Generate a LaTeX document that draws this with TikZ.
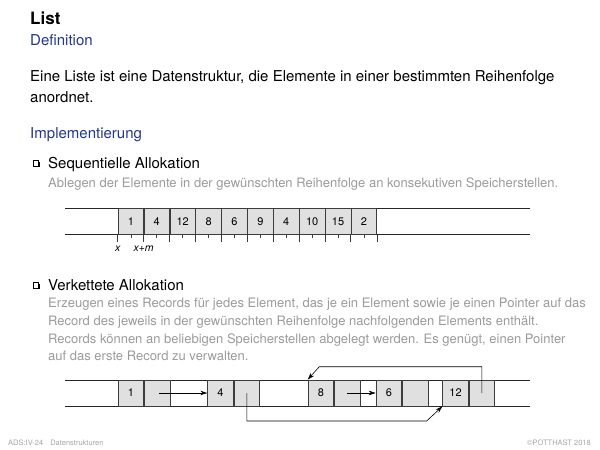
\documentclass[tikz,border=0pt]{standalone}
\usepackage{fontspec}
\setmainfont{TeX Gyre Heros}
\usetikzlibrary{arrows.meta}
\definecolor{slideblue}{RGB}{35,55,140}
\definecolor{greytext}{RGB}{155,155,155}
\definecolor{cellfill}{RGB}{224,224,224}
\definecolor{celldraw}{RGB}{60,60,60}
\tikzset{
  txt/.style={anchor=base west, inner sep=0pt, font=\fontsize{15}{18}\selectfont},
  bluetxt/.style={txt, text=slideblue},
  greyline/.style={anchor=base west, inner sep=0pt, text=greytext, font=\fontsize{13}{16}\selectfont},
  cellbox/.style={draw=celldraw, fill=cellfill, line width=0.8pt, minimum width=25.6pt, minimum height=26pt, inner sep=0pt, anchor=west, font=\fontsize{11}{13}\selectfont},
  strip/.style={line width=0.8pt, black!85},
  ptr/.style={line width=0.6pt, -{Stealth[length=7pt,width=4.5pt]}},
  footer/.style={inner sep=0pt, text=black!35, font=\fontsize{7.5}{9}\selectfont},
  tlabel/.style={inner sep=0pt, font=\fontsize{10.5}{12}\selectfont\itshape, anchor=base}
}
\newcommand{\bulletbox}[2]{%
  \fill[black] (#1+1.2,#2+1.2) rectangle (#1+6.7,#2+6.7);
  \draw[fill=white, line width=0.5pt] (#1,#2) rectangle (#1+5.5,#2+5.5);
}
\begin{document}
\begin{tikzpicture}[x=1pt,y=-1pt]
\useasboundingbox[fill=white] (0,0) rectangle (600,450);

\node[txt, font=\fontsize{17}{20}\selectfont\bfseries] (title) at (30,24) {List};
\node[bluetxt] (def) at (30,45.5) {Definition};
\node[txt] (p1) at (30,81) {Eine Liste ist eine Datenstruktur, die Elemente in einer bestimmten Reihenfolge};
\node[txt] (p2) at (30,102) {anordnet.};
\node[bluetxt] (impl) at (30,138.5) {Implementierung};

\bulletbox{33}{160.5}
\node[txt] (seq) at (48,168.5) {Sequentielle Allokation};
\node[greyline] (seqd) at (48,187.5) {Ablegen der Elemente in der gewünschten Reihenfolge an konsekutiven Speicherstellen.};

% sequential strip
\coordinate (s1l) at (65,208.3);
\coordinate (s1r) at (530,208.3);
\coordinate (s2l) at (65,234.3);
\coordinate (s2r) at (530,234.3);
\draw[strip] (s1l) -- (s1r);
\draw[strip] (s2l) -- (s2r);
\foreach \v [count=\i from 0] in {1,4,12,8,6,9,4,10,15,2} {
  \node[cellbox, minimum height=26pt] (c\i) at (117.7+25.9*\i,221.3) {\v};
  \draw[celldraw, line width=0.8pt] (c\i.south west) -- ++(0,7);
  \draw[celldraw, line width=0.8pt] (c\i.south) -- ++(0,3.5);
}
\draw[celldraw, line width=0.8pt] (c9.south east) -- ++(0,7);
\node[tlabel] (lx) at (c0.south west |- 0,251) {x};
\node[tlabel] (lxm) at (c1.south west |- 0,251) {x+m};

\bulletbox{33}{282.5}
\node[txt] (ver) at (48,290.5) {Verkettete Allokation};
\node[greyline] (v1) at (48,307) {Erzeugen eines Records für jedes Element, das je ein Element sowie je einen Pointer auf das};
\node[greyline] (v2) at (48,325) {Record des jeweils in der gewünschten Reihenfolge nachfolgenden Elements enthält.};
\node[greyline] (v3) at (48,343) {Records können an beliebigen Speicherstellen abgelegt werden. Es genügt, einen Pointer};
\node[greyline] (v4) at (48,360.5) {auf das erste Record zu verwalten.};

% linked strip
\coordinate (t1l) at (65,380);
\coordinate (t1r) at (530,380);
\coordinate (t2l) at (65,406);
\coordinate (t2r) at (530,406);
\draw[strip] (t1l) -- (t1r);
\draw[strip] (t2l) -- (t2r);

\node[cellbox] (d1) at (117.7,393) {1};
\node[cellbox] (q1) at (d1.east) {};
\node[cellbox] (d4) at (207.3,393) {4};
\node[cellbox] (q4) at (d4.east) {};
\node[cellbox] (d8) at (307.7,393) {8};
\node[cellbox] (q8) at (d8.east) {};
\node[cellbox] (d6) at (375.7,393) {6};
\node[cellbox] (q6) at (d6.east) {};
\node[cellbox] (d12) at (442.3,393) {12};
\node[cellbox] (q12) at (d12.east) {};

\coordinate (r4a) at (q4.center |- 0,421);
\coordinate (r4b) at (426.7,421);
\coordinate (r12a) at (q12.center |- 0,366.7);
\coordinate (r12b) at (319.3,366.7);

\draw[ptr] ([xshift=2pt]q1.center) -- (d4.west);
\draw[ptr] (q8.center) -- (d6.west);
\draw[ptr] (q4.center) -- (r4a) -- (r4b) -- (d12.south west);
\draw[ptr] (q12.center) -- (r12a) -- (r12b) -- (d8.north west);

\node[footer, anchor=base west] (f1) at (8,445) {ADS:IV-24\hspace{7pt}Datenstrukturen};
\node[footer, anchor=base east] (f2) at (591,445) {©POTTHAST 2018};
\end{tikzpicture}
\end{document}
